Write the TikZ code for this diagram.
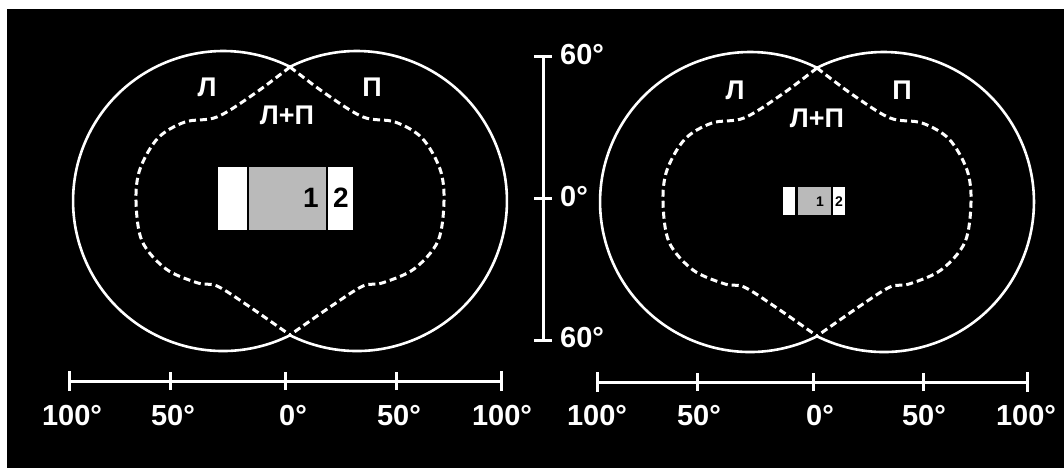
\documentclass[tikz,border=0pt]{standalone}
\usepackage{fontspec}
\setmainfont{Liberation Sans}
\usetikzlibrary{positioning}
\definecolor{fieldgray}{RGB}{186,186,186}

\begin{document}
\begin{tikzpicture}[x=1pt, y=-1pt,
    field/.style={draw=white, line width=2.6pt},
    binoc/.style={draw=white, line width=3pt, dash pattern=on 7pt off 4pt},
    scaleline/.style={draw=white, line width=3pt},
    lbl/.style={text=white, inner sep=0pt, font=\fontsize{27}{29}\selectfont\bfseries},
    deg/.style={text=white, inner sep=0pt, font=\fontsize{29}{31}\selectfont\bfseries},
    bigdigit/.style={text=black, inner sep=0pt, font=\fontsize{28}{30}\selectfont\bfseries},
    smalldigit/.style={text=black, inner sep=0pt, font=\fontsize{14}{15}\selectfont\bfseries},
    pics/halfshape/.style={code={
        \draw[binoc] plot[smooth, tension=0.55] coordinates {(0,-134) (-36,-107) (-73,-84) (-105,-79) (-132,-63) (-150,-32) (-154,0) (-148,40) (-124,68) (-92,82) (-73,85) (-43,104) (0,134)};
    }},
]
% frame
\fill[white] (0,0) rectangle (1064,468);
\fill[black] (7,9) rectangle (1064,468);
\useasboundingbox (0,0) rectangle (1064,468);

% left field pair
\coordinate (ltop) at (290,66.8);
\draw[field] (ltop) arc[start angle=63.5, end angle=296.5, radius=150pt];
\draw[field] (ltop) arc[start angle=116.5, end angle=-116.5, radius=150pt];
\pic at (290,201) {halfshape};
\pic[xscale=-1] at (290,201) {halfshape};
\node[lbl] (lL) at (207,87) {Л};
\node[lbl] (lR) at (372,87) {П};
\node[lbl] (lLR) at (287,115) {Л+П};
\fill[white] (218,167) rectangle (247,230);
\fill[fieldgray] (249,167) rectangle (326,230);
\fill[white] (328,167) rectangle (353,230);
\node[bigdigit] (lone) at (311,198) {1};
\node[bigdigit] (ltwo) at (341,198) {2};

% right field pair
\coordinate (rtop) at (817,67.8);
\draw[field] (rtop) arc[start angle=63.5, end angle=296.5, radius=150pt];
\draw[field] (rtop) arc[start angle=116.5, end angle=-116.5, radius=150pt];
\pic at (817,202) {halfshape};
\pic[xscale=-1] at (817,202) {halfshape};
\node[lbl] (rL) at (735,90) {Л};
\node[lbl] (rR) at (902,90) {П};
\node[lbl] (rLR) at (817,118) {Л+П};
\fill[white] (783,187) rectangle (795,215);
\fill[fieldgray] (798,187) rectangle (831,215);
\fill[white] (833,187) rectangle (845,215);
\node[smalldigit] (rone) at (820,202) {1};
\node[smalldigit] (rtwo) at (839,202) {2};

% vertical scale
\coordinate (vtop) at (543,57);
\coordinate (vmid) at (543,198);
\coordinate (vbot) at (543,340);
\draw[scaleline] (vtop) -- (vbot);
\draw[scaleline] ([xshift=-9pt]vtop) -- ([xshift=9pt]vtop);
\draw[scaleline] ([xshift=-9pt]vmid) -- ([xshift=9pt]vmid);
\draw[scaleline] ([xshift=-9pt]vbot) -- ([xshift=9pt]vbot);
\node[deg, anchor=west] (vtoplbl) at (560,55) {60°};
\node[deg, anchor=west] (vmidlbl) at (560,197) {0°};
\node[deg, anchor=west] (vbotlbl) at (560,338) {60°};

% left horizontal scale
\coordinate (la) at (69,381);
\coordinate (lb) at (170,381);
\coordinate (lc) at (285,381);
\coordinate (ld) at (396,381);
\coordinate (le) at (501,381);
\draw[scaleline] (la) -- (le);
\draw[scaleline] ([yshift=-10pt]la) -- ([yshift=10pt]la);
\draw[scaleline] ([yshift=-9pt]lb) -- ([yshift=9pt]lb);
\draw[scaleline] ([yshift=-9pt]lc) -- ([yshift=9pt]lc);
\draw[scaleline] ([yshift=-9pt]ld) -- ([yshift=9pt]ld);
\draw[scaleline] ([yshift=-10pt]le) -- ([yshift=10pt]le);
\node[deg] (lalbl) at (72,416) {100°};
\node[deg] (lblbl) at (173,416) {50°};
\node[deg] (lclbl) at (293,416) {0°};
\node[deg] (ldlbl) at (399,416) {50°};
\node[deg] (lelbl) at (502,416) {100°};

% right horizontal scale
\coordinate (ra) at (597,382);
\coordinate (rb) at (697,382);
\coordinate (rc) at (813,382);
\coordinate (rd) at (923,382);
\coordinate (re) at (1027,382);
\draw[scaleline] (ra) -- (re);
\draw[scaleline] ([yshift=-10pt]ra) -- ([yshift=10pt]ra);
\draw[scaleline] ([yshift=-9pt]rb) -- ([yshift=9pt]rb);
\draw[scaleline] ([yshift=-9pt]rc) -- ([yshift=9pt]rc);
\draw[scaleline] ([yshift=-9pt]rd) -- ([yshift=9pt]rd);
\draw[scaleline] ([yshift=-10pt]re) -- ([yshift=10pt]re);
\node[deg] (ralbl) at (597,416) {100°};
\node[deg] (rblbl) at (699,416) {50°};
\node[deg] (rclbl) at (820,416) {0°};
\node[deg] (rdlbl) at (924,416) {50°};
\node[deg] (relbl) at (1026,416) {100°};
\end{tikzpicture}
\end{document}
